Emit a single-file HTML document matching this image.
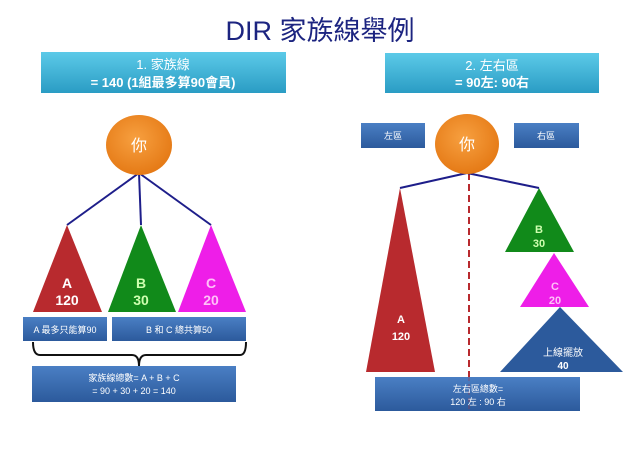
<!DOCTYPE html>
<html><head><meta charset="utf-8"><style>
body{margin:0;background:#fff;width:640px;height:463px;overflow:hidden}
svg text{font-family:"Liberation Sans","Noto Sans CJK TC",sans-serif}
</style></head><body>
<svg width="640" height="463" viewBox="0 0 640 463">
<defs>
<linearGradient id="cy" x1="0" y1="0" x2="0" y2="1"><stop offset="0" stop-color="#5ccae8"/><stop offset="1" stop-color="#2a9cc4"/></linearGradient>
<linearGradient id="bl" x1="0" y1="0" x2="0" y2="1"><stop offset="0" stop-color="#4a7fc4"/><stop offset="1" stop-color="#2c5a9c"/></linearGradient>
<radialGradient id="or" cx="0.45" cy="0.4" r="0.6"><stop offset="0" stop-color="#f7a040"/><stop offset="1" stop-color="#e57a16"/></radialGradient>
</defs>
<text x="320" y="40" text-anchor="middle" font-size="27" fill="#1c2480">DIR 家族線舉例</text>

<!-- left -->
<rect x="41" y="52" width="245" height="41" fill="url(#cy)"/>
<text x="163" y="69" text-anchor="middle" font-size="13" fill="#fff">1. 家族線</text>
<text x="163" y="87" text-anchor="middle" font-size="13" font-weight="bold" fill="#fff">= 140 (1組最多算90會員)</text>
<g stroke="#1e1e8a" stroke-width="2"><line x1="139" y1="173" x2="67" y2="225"/><line x1="139" y1="173" x2="141" y2="225"/><line x1="139" y1="173" x2="211" y2="225"/></g>
<ellipse cx="139" cy="145" rx="33" ry="30" fill="url(#or)"/>
<text x="139" y="151" text-anchor="middle" font-size="16" fill="#fff">你</text>
<polygon points="67,225 33,312 102,312" fill="#b82a2e"/>
<polygon points="141,225 108,312 176,312" fill="#118a1a"/>
<polygon points="211,225 178,312 246,312" fill="#ee1ee8"/>
<g font-size="14" font-weight="bold" text-anchor="middle">
<text x="67" y="288" fill="#fff">A</text><text x="67" y="305" fill="#fff">120</text>
<text x="141" y="288" fill="#cfffb0">B</text><text x="141" y="305" fill="#cfffb0">30</text>
<text x="211" y="288" fill="#ffc0f8">C</text><text x="211" y="305" fill="#ffc0f8">20</text>
</g>
<rect x="23" y="317" width="84" height="24" fill="url(#bl)"/>
<rect x="112" y="317" width="134" height="24" fill="url(#bl)"/>
<text x="65" y="333" text-anchor="middle" font-size="9" fill="#fff">A 最多只能算90</text>
<text x="179" y="333" text-anchor="middle" font-size="9" fill="#fff">B 和 C 總共算50</text>
<path d="M33,342 Q33,355 40,355 L132,355 Q139,355 139,366 Q139,355 146,355 L240,355 Q246,355 246,342" fill="none" stroke="#111" stroke-width="2"/>
<rect x="32" y="366" width="204" height="36" fill="url(#bl)"/>
<text x="134" y="381" text-anchor="middle" font-size="9" fill="#fff">家族線總數= A + B + C</text>
<text x="134" y="394" text-anchor="middle" font-size="9" fill="#fff">= 90 + 30 + 20 = 140</text>

<!-- right -->
<rect x="385" y="53" width="214" height="40" fill="url(#cy)"/>
<text x="492" y="70" text-anchor="middle" font-size="13" fill="#fff">2. 左右區</text>
<text x="492" y="87" text-anchor="middle" font-size="13" font-weight="bold" fill="#fff">= 90左: 90右</text>
<rect x="361" y="123" width="64" height="25" fill="url(#bl)"/>
<rect x="514" y="123" width="65" height="25" fill="url(#bl)"/>
<text x="393" y="139" text-anchor="middle" font-size="9" fill="#fff">左區</text>
<text x="546" y="139" text-anchor="middle" font-size="9" fill="#fff">右區</text>
<polygon points="400,188 366,372 435,372" fill="#b82a2e"/>
<polygon points="539,188 505,252 574,252" fill="#118a1a"/>
<polygon points="554,253 520,307 589,307" fill="#ee1ee8"/>
<polygon points="560,307 500,372 623,372" fill="#2c5a9c"/>
<line x1="469" y1="173" x2="469" y2="413" stroke="#b82a2e" stroke-width="2" stroke-dasharray="7,4"/>
<g stroke="#1e1e8a" stroke-width="2"><line x1="467" y1="173" x2="400" y2="188"/><line x1="467" y1="173" x2="539" y2="188"/></g>
<ellipse cx="467" cy="144" rx="32" ry="30" fill="url(#or)"/>
<text x="467" y="150" text-anchor="middle" font-size="16" fill="#fff">你</text>
<g font-size="11" font-weight="bold" text-anchor="middle">
<text x="401" y="323" fill="#fff">A</text><text x="401" y="340" fill="#fff">120</text>
<text x="539" y="233" fill="#cfffb0">B</text><text x="539" y="247" fill="#cfffb0">30</text>
<text x="555" y="290" fill="#ffc0f8">C</text><text x="555" y="304" fill="#ffc0f8">20</text>
<text x="563" y="356" fill="#fff" font-weight="normal" font-size="10">上線擺放</text><text x="563" y="369" fill="#fff" font-size="10">40</text>
</g>
<rect x="375" y="377" width="205" height="34" fill="url(#bl)"/>
<line x1="469" y1="377" x2="469" y2="411" stroke="#b82a2e" stroke-width="1" stroke-dasharray="4,3" opacity="0.5"/>
<text x="478" y="392" text-anchor="middle" font-size="9" fill="#fff">左右區總數=</text>
<text x="478" y="405" text-anchor="middle" font-size="9" fill="#fff">120 左 : 90 右</text>
</svg>
</body></html>
